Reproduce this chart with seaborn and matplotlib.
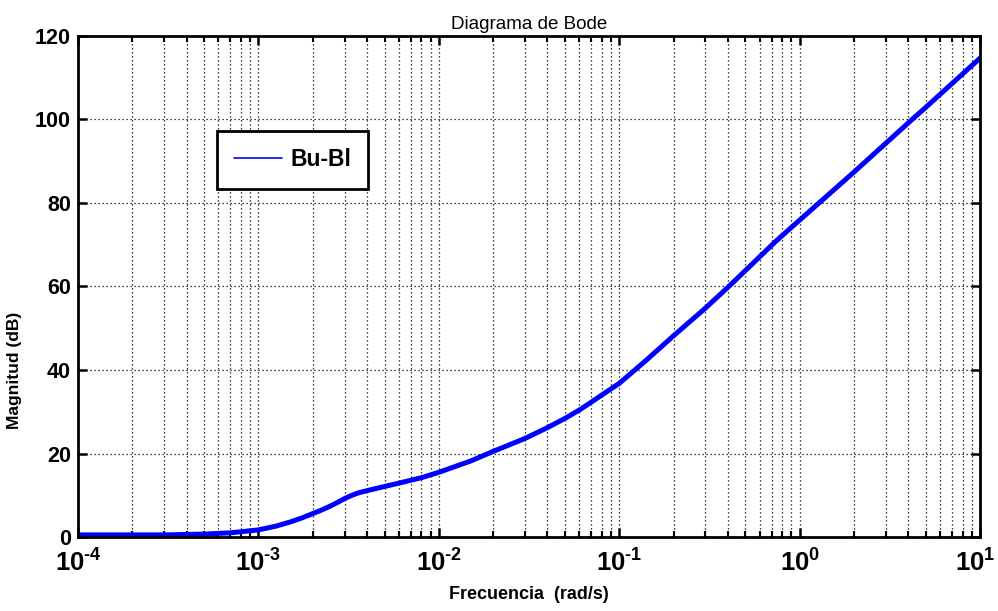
import numpy as np
import pandas as pd
import matplotlib
matplotlib.use("Agg")
import matplotlib.pyplot as plt
import matplotlib.transforms as mtransforms
import seaborn as sns
from matplotlib.lines import Line2D
from matplotlib.ticker import LogLocator, FixedLocator, NullFormatter

# ---- data ----
freq = [1e-4, 2e-4, 3e-4, 5e-4, 7e-4, 1e-3, 1.25e-3, 1.5e-3, 1.75e-3, 2e-3, 2.25e-3,
        2.5e-3, 2.75e-3, 3e-3, 3.3e-3, 3.6e-3, 4e-3, 5e-3, 6e-3, 7e-3, 8e-3, 1e-2,
        1.5e-2, 2e-2, 3e-2, 4e-2, 5e-2, 6e-2, 7e-2, 8e-2, 1e-1, 1.4e-1, 2e-1, 3e-1,
        4e-1, 5e-1, 6e-1, 7e-1, 8e-1, 1.0, 2.0, 4.2, 5.0, 10.0]
mag = [0.5, 0.5, 0.5, 0.7, 1.0, 1.7, 2.6, 3.6, 4.6, 5.6, 6.5,
       7.4, 8.3, 9.2, 10.0, 10.6, 11.1, 12.1, 12.9, 13.6, 14.2, 15.5,
       18.2, 20.5, 23.6, 26.2, 28.4, 30.4, 32.3, 34.0, 36.8, 42.2, 48.2, 54.8,
       59.8, 63.8, 67.1, 69.9, 72.2, 75.9, 87.4, 100.0, 102.9, 114.7]
series_name = "Bu-Bl"
y_ticks = [0, 20, 40, 60, 80, 100, 120]
x_ticks = [1e-4, 1e-3, 1e-2, 1e-1, 1e0, 1e1]
x_exponents = ["-4", "-3", "-2", "-1", "0", "1"]

df = pd.DataFrame({"Frecuencia": freq, "Magnitud": mag, "serie": series_name})

sns.set_style("ticks")
fam = "Liberation Sans"
plt.rcParams["font.family"] = [fam, "DejaVu Sans"]
plt.rcParams["mathtext.fontset"] = "custom"
plt.rcParams["mathtext.rm"] = fam + ":bold"
plt.rcParams["mathtext.bf"] = fam + ":bold"
plt.rcParams["mathtext.default"] = "bf"
for k in ["text.color", "axes.labelcolor", "xtick.color", "ytick.color", "axes.edgecolor"]:
    plt.rcParams[k] = "black"

fig = plt.figure(figsize=(9.98, 6.11), dpi=100)
ax = fig.add_axes([0.0782, 0.1211, 0.9038, 0.8200])

sns.lineplot(data=df, x="Frecuencia", y="Magnitud", ax=ax, color="#0000ff",
             linewidth=3.6, legend=False)

ax.set_xscale("log")
ax.set_xlim(1e-4, 10)
ax.set_ylim(0, 120)

ax.xaxis.set_major_locator(FixedLocator(x_ticks))
ax.xaxis.set_minor_locator(LogLocator(base=10, subs=np.arange(2, 10), numticks=20))
ax.xaxis.set_minor_formatter(NullFormatter())
ax.set_xticks(x_ticks)
ax.set_xticklabels([r"$\mathbf{10}^{\text{%s}}$" % e for e in x_exponents], fontsize=18.5)
ax.set_yticks(y_ticks)
ax.set_yticklabels([str(v) for v in y_ticks], fontsize=15.5, fontweight="bold")

dots = (0, (1, 2.2))
ax.grid(True, which="major", axis="both", color="black", linestyle=dots, linewidth=0.9)
ax.grid(True, which="minor", axis="x", color="black", linestyle=dots, linewidth=0.9)

ax.tick_params(which="major", direction="in", length=6.5, width=1.8, top=True, right=True, pad=5,
               colors="black")
ax.tick_params(which="minor", direction="in", length=4.5, width=1.5, top=True, right=True,
               colors="black")
ax.tick_params(axis="x", which="major", pad=9)
for s in ax.spines.values():
    s.set_linewidth(2.0)
    s.set_color("black")
    s.set_visible(True)

# keep the last x tick label inside the figure
last = ax.get_xticklabels()[-1]
last.set_transform(last.get_transform() + mtransforms.ScaledTranslation(-5 / 100, 0, fig.dpi_scale_trans))

ax.set_xlabel("Frecuencia  (rad/s)", fontsize=13, fontweight="bold", labelpad=7, color="black")
ax.set_ylabel("Magnitud (dB)", fontsize=12.5, fontweight="bold", color="black")
ax.yaxis.set_label_coords(-0.062, 0.333)
ax.set_title("Diagrama de Bode", fontsize=13.5, pad=5, color="black")

handle = Line2D([0], [0], color="#0000ff", linewidth=1.2)
leg = ax.legend([handle], [series_name], loc="upper left",
                bbox_to_anchor=(0.154, 0.81), fancybox=False, framealpha=1,
                edgecolor="black", prop={"family": fam, "weight": "bold", "size": 16.5},
                handlelength=2.1, borderpad=0.75, handletextpad=0.35, borderaxespad=0)
leg.get_frame().set_linewidth(2.0)
for t in leg.get_texts():
    t.set_color("black")

fig.savefig("out.png", dpi=100)
